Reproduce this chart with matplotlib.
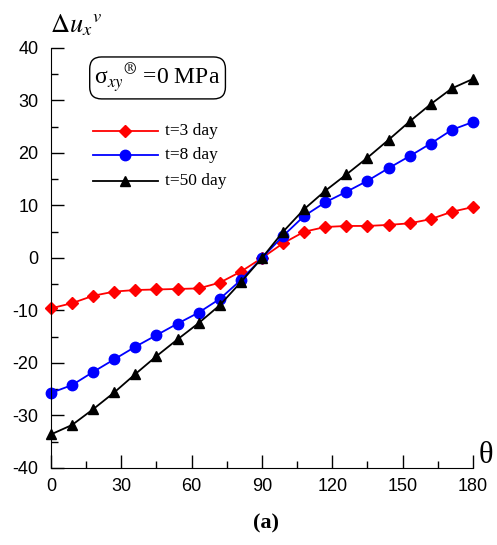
import numpy as np
import matplotlib.pyplot as plt
from matplotlib.ticker import MultipleLocator

plt.rcParams['mathtext.fontset'] = 'stix'
plt.rcParams['font.family'] = 'Liberation Sans'
plt.rcParams['axes.unicode_minus'] = False

theta = np.arange(0, 181, 9)

# displacement difference for each time step
u_3day = [-9.6, -8.6, -7.2, -6.4, -6.1, -6.0, -5.9, -5.8, -4.7, -2.6, 0.0,
          2.8, 5.0, 5.9, 6.1, 6.1, 6.3, 6.6, 7.4, 8.8, 9.7]
u_8day = [-25.7, -24.2, -21.7, -19.3, -16.9, -14.7, -12.5, -10.4, -7.8, -4.2, 0.0,
          4.2, 8.0, 10.6, 12.6, 14.7, 17.1, 19.4, 21.8, 24.4, 25.9]
u_50day = [-33.6, -31.8, -28.8, -25.6, -22.1, -18.7, -15.5, -12.4, -9.0, -4.6, 0.0,
           5.0, 9.3, 12.8, 15.9, 19.1, 22.5, 26.0, 29.3, 32.3, 34.1]

fig = plt.figure(figsize=(4.97, 5.45), dpi=100)
ax = fig.add_axes([0.1026, 0.1413, 0.849, 0.7707])

ax.plot(theta, u_3day, '-', color='#ff0000', lw=1.3, marker='D', ms=6.5, clip_on=False)
ax.plot(theta, u_8day, '-', color='#0000ff', lw=1.3, marker='o', ms=7.5, clip_on=False)
ax.plot(theta, u_50day, '-', color='black', lw=1.3, marker='^', ms=7.5, clip_on=False)

ax.set_xlim(0, 180)
ax.set_ylim(-40, 40)
ax.xaxis.set_major_locator(MultipleLocator(30))
ax.xaxis.set_minor_locator(MultipleLocator(15))
ax.yaxis.set_major_locator(MultipleLocator(10))
ax.yaxis.set_minor_locator(MultipleLocator(5))
ax.spines['top'].set_visible(False)
ax.spines['right'].set_visible(False)
ax.tick_params(which='both', direction='in', labelsize=13, width=1)
ax.tick_params(which='major', length=9.5)
ax.tick_params(which='minor', length=5)
ax.tick_params(axis='y', pad=9)
ax.tick_params(axis='x', pad=7)

# legend drawn by hand, no frame
leg_y = [24.2, 19.6, 14.7]
labels = ['t=3 day', 't=8 day', 't=50 day']
styles = [('#ff0000', 'D', 6.5), ('#0000ff', 'o', 7.5), ('black', '^', 7.5)]
for yy, lab, (c, m, s) in zip(leg_y, labels, styles):
    ax.plot([18, 45.5], [yy, yy], '-', color=c, lw=1.3)
    ax.plot([31.7], [yy], marker=m, color=c, ms=s)
    ax.text(48.5, yy, lab, va='center', ha='left', fontsize=12.5, family='Liberation Serif')

ax.text(0.19, 0.857, 'σ$_{xy}{}^{®}$ =0 MPa', transform=fig.transFigure,
        fontsize=17, family='Liberation Serif', va='center', ha='left',
        bbox=dict(boxstyle='round,pad=0.2,rounding_size=0.5', fc='white', ec='black', lw=1))

fig.text(0.1, 0.94, r'$\Delta u_x{}^{v}$', fontsize=19, ha='left', va='baseline')
fig.text(0.963, 0.15, 'θ', fontsize=22, ha='left', va='baseline', family='Liberation Serif')
fig.text(0.535, 0.03, '(a)', fontsize=16, ha='center', fontweight='bold',
         family='Liberation Serif')

fig.savefig('out.png', dpi=100)
